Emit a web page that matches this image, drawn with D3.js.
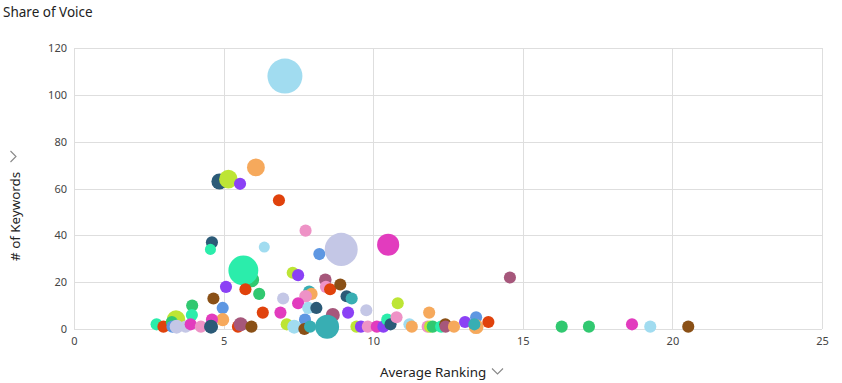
<!DOCTYPE html>
<html>
<head>
<meta charset="utf-8">
<script src="https://cdn.jsdelivr.net/npm/d3@7"></script>
<style>
  html, body { margin: 0; padding: 0; background: #fff; }
  svg { display: block; font-family: "Noto Sans", "Open Sans", sans-serif; }
</style>
</head>
<body>
<svg id="chart" width="842" height="383"></svg>
<script>
// ---- data ----
const brands = ["Brand A","Brand B","Brand C","Brand D","Brand E","Brand F","Brand G","Brand H","Brand I","Brand J","Brand K","Brand L","Brand M","Brand N","Brand O"];
const xTicks = [0, 5, 10, 15, 20, 25];
const yTicks = [0, 20, 40, 60, 80, 100, 120];
// average ranking (x), number of keywords (y), share value (bubble size), brand index
const avgRanking = [4.86,5.16,5.55,6.08,6.85,7.05,7.74,4.61,4.56,6.36,8.2,8.93,10.5,7.31,7.49,5.94,5.66,5.08,5.73,6.19,4.66,3.95,3.94,4.97,4.97,4.61,6.31,6.9,6.99,7.86,7.94,7.74,7.49,7.83,8.1,8.4,8.42,8.56,8.9,9.11,9.28,9.16,9.77,8.65,7.72,7.11,7.36,7.7,7.89,8.46,9.44,9.59,9.82,10.12,10.34,10.47,10.58,10.78,10.82,11.21,11.29,11.87,11.82,11.9,11.99,12.27,12.41,12.42,12.7,13.07,13.44,13.44,13.38,13.85,14.57,16.3,17.21,18.65,19.26,20.53,2.76,2.99,3.41,3.27,3.29,3.43,3.73,3.9,4.24,4.58,5.48,5.57,5.93];
const keywords   = [63,64,62,69,55,108,42,37,34,35,32,34,36,24,23,21,25,18,17,15,13,10,6,9,4,4,7,7,13,16,15,14,11,9,9,21,18,17,19,14,13,7,8,6,4,2,1,0,1,1,1,1,1,1,1,4,2,5,11,2,1,7,1,1,1,1,2,1,1,3,5,1,2,3,22,1,1,2,1,1,2,1,4,3,1,1,1,2,1,1,1,2,1];
const shareValue = [21,28,12,26,12,100,12,12,10,10,12,89,40,12,12,18,73,12,12,12,12,12,12,12,14,12,12,12,12,12,12,13,12,12,12,13,12,12,12,12,12,12,12,16,12,12,16,12,12,47,12,12,12,12,12,12,12,12,12,12,12,12,12,12,12,12,12,12,12,12,12,18,12,12,12,12,12,12,12,12,12,12,28,12,12,16,12,12,12,16,12,16,12];
const brandIdx   = [6,7,8,5,9,0,10,6,2,0,11,1,4,7,8,12,2,8,9,12,13,12,2,11,5,4,9,4,1,3,5,10,4,0,6,14,10,9,13,6,3,8,1,14,11,7,0,13,3,3,7,8,10,4,8,2,6,10,7,0,5,5,10,7,12,2,13,14,5,8,11,5,3,9,14,12,12,4,0,13,2,9,7,12,11,1,1,4,10,6,9,14,13];

// ---- styles ----
const palette = ["#a1dcf0","#c4c7e6","#2bedab","#38aeb3","#e23cbe","#f6a95c","#2b5a77","#bde535","#8b41f5","#e0420c","#ee92c6","#5e97e2","#31c870","#8a5016","#a6577b"];

const svg = d3.select("#chart");
const x = d3.scaleLinear().domain([0, 25]).range([74, 822]);
const y = d3.scaleLinear().domain([0, 120]).range([329, 48]);
const r = d3.scaleSqrt().domain([0, 100]).range([0, 17.5]);
const color = d3.scaleOrdinal().domain(brands).range(palette);

// grid
svg.append("g").selectAll("line.h").data(yTicks).join("line")
  .attr("x1", x(0)).attr("x2", x(25))
  .attr("y1", d => Math.round(y(d)) + 0.5).attr("y2", d => Math.round(y(d)) + 0.5)
  .attr("stroke", "#dedede").attr("stroke-width", 1);
svg.append("g").selectAll("line.v").data(xTicks).join("line")
  .attr("x1", d => Math.round(x(d)) + 0.5).attr("x2", d => Math.round(x(d)) + 0.5)
  .attr("y1", y(120)).attr("y2", y(0))
  .attr("stroke", "#dedede").attr("stroke-width", 1);

// axes (tick labels only)
const xAxis = svg.append("g").attr("transform", `translate(0,${y(0)})`)
  .call(d3.axisBottom(x).tickValues(xTicks).tickSize(0).tickPadding(8));
const yAxis = svg.append("g").attr("transform", `translate(${x(0)},0)`)
  .call(d3.axisLeft(y).tickValues(yTicks).tickSize(0).tickPadding(7));
[xAxis, yAxis].forEach(a => {
  a.select(".domain").remove();
  a.selectAll("text").attr("fill", "#444").style("font-size", "11px")
    .style("font-family", '"Noto Sans", sans-serif');
});

// bubbles
const pts = avgRanking.map((v, i) => ({x: v, y: keywords[i], s: shareValue[i], b: brands[brandIdx[i]]}));
svg.append("g").selectAll("circle").data(pts).join("circle")
  .attr("cx", d => x(d.x)).attr("cy", d => y(d.y)).attr("r", d => r(d.s))
  .attr("fill", d => color(d.b));

// title
svg.append("text").attr("x", 3).attr("y", 17).text("Share of Voice")
  .attr("fill", "#222").style("font-size", "13.5px");

// axis titles with chevrons
svg.append("text").attr("x", 380).attr("y", 377).attr("fill", "#222").style("font-size", "13.4px")
  .text("Average Ranking");
svg.append("path").attr("d", "M492,368.5 L497.5,374 L503,368.5").attr("fill", "none").attr("stroke", "#888").attr("stroke-width", 1.1);

svg.append("text").attr("transform", "translate(20,261) rotate(-90)").attr("fill", "#222").style("font-size", "13.4px")
  .text("# of Keywords");
svg.append("path").attr("d", "M10.5,151 L16,156.5 L10.5,162").attr("fill", "none").attr("stroke", "#888").attr("stroke-width", 1.1);
</script>
</body>
</html>
